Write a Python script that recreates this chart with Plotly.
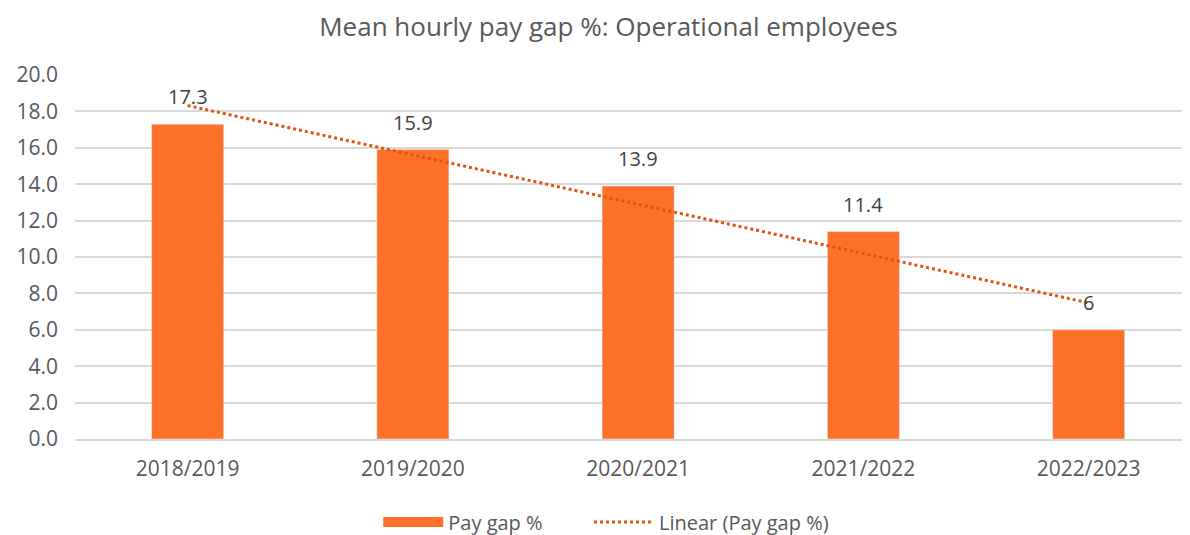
import plotly.graph_objects as go

years = ["2018/2019", "2019/2020", "2020/2021", "2021/2022", "2022/2023"]
pay_gap = [17.3, 15.9, 13.9, 11.4, 6]
bar_labels = ["17.3", "15.9", "13.9", "11.4", "6"]

# Excel style linear trendline (least squares over category index)
n = len(pay_gap)
xs = list(range(1, n + 1))
mx = sum(xs) / n
my = sum(pay_gap) / n
slope = sum((x - mx) * (y - my) for x, y in zip(xs, pay_gap)) / sum((x - mx) ** 2 for x in xs)
trend = [my + slope * (x - mx) for x in xs]

grey = "#595959"
bar_color = "#FF7029"
trend_color = "#E2540E"
font_family = "Open Sans, Liberation Sans, sans-serif"

fig = go.Figure()

fig.add_trace(go.Bar(
    x=years, y=pay_gap,
    name="Pay gap %",
    marker=dict(color=bar_color),
    width=0.32,
    showlegend=False,
))

# legend proxy so the bar key is drawn as a wide block like the original
fig.add_trace(go.Scatter(
    x=[None], y=[None], name="Pay gap %", mode="lines",
    line=dict(color=bar_color, width=14),
    legend="legend",
))

fig.add_trace(go.Scatter(
    x=years, y=trend,
    name="Linear (Pay gap %)",
    mode="lines",
    line=dict(color=trend_color, width=3, dash="dot"),
    legend="legend2",
))

for yr, val, lab in zip(years, pay_gap, bar_labels):
    fig.add_annotation(x=yr, y=val, text=lab, showarrow=False,
                       yanchor="bottom", yshift=12,
                       font=dict(size=20, color="#404040"))

legend_style = dict(orientation="h", xanchor="left", y=-0.228, yanchor="middle",
                    font=dict(size=20, color=grey), itemwidth=60)

fig.update_layout(
    width=1182, height=527,
    paper_bgcolor="white", plot_bgcolor="white",
    font=dict(family=font_family, color=grey),
    title=dict(text="Mean hourly pay gap %: Operational employees",
               x=0.508, xanchor="center", y=0.964, yanchor="middle",
               font=dict(size=26, color=grey)),
    margin=dict(l=67, r=0, t=67, b=96, autoexpand=False),
    showlegend=True,
    legend=dict(x=0.272, **legend_style),
    legend2=dict(x=0.461, **legend_style),
    xaxis=dict(range=[-0.5, 4.45], showgrid=False, showline=True,
               linecolor="#D9D9D9", linewidth=1.5, ticks="",
               ticklabelstandoff=10,
               tickfont=dict(size=21, color=grey)),
    yaxis=dict(range=[0, 20], dtick=2, tickformat=".1f", showgrid=True,
               gridcolor="#D9D9D9", gridwidth=1.5, zeroline=False,
               tickfont=dict(size=21, color=grey), ticks="",
               ticklabelstandoff=16),
)

fig.write_html("out.html")
